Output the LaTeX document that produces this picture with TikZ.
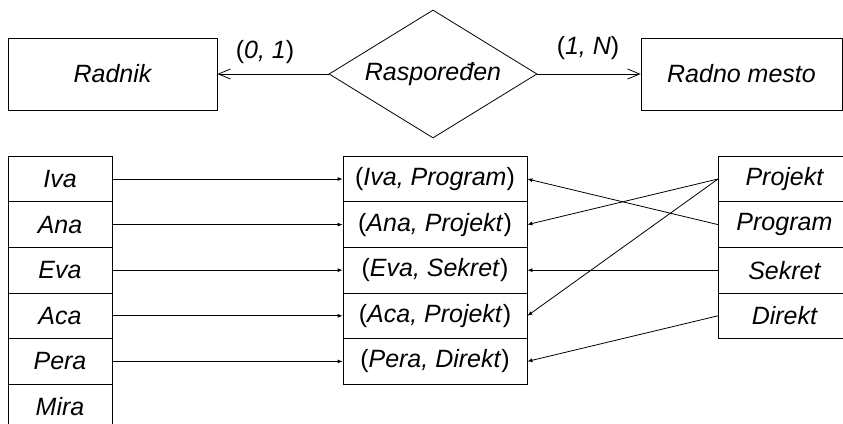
\documentclass[tikz,border=0pt]{standalone}
\usepackage{fontspec}
\setmainfont{Liberation Sans}
\usetikzlibrary{shapes.geometric,arrows.meta}

\begin{document}
\begin{tikzpicture}[x=1pt,y=-1pt,line width=0.8pt,font=\fontsize{25}{30}\selectfont]

        \useasboundingbox (0,0) rectangle (843,423);
        \clip (0,0) rectangle (843,423);

        \begin{scope}[every node/.style={draw, inner sep=0pt, minimum height=72pt, font=\fontsize{25}{30}\selectfont\itshape}]
          \node[minimum width=209pt] (radnik) at (112.5,74) {Radnik};
          \node[diamond, minimum width=208pt, minimum height=128pt, aspect=1.625] (rasp) at (433,74) {Raspoređen};
          \node[minimum width=201pt] (mesto) at (741.5,74) {Radno mesto};
        \end{scope}

        \node (k1) at (265,52) {(\textit{0, 1})};
        \node (k2) at (588,48) {(\textit{1, N})};

        \begin{scope}[every edge/.style={draw, -{Straight Barb[length=12pt,width=10pt]}}]
          \path (rasp.west) edge (radnik.east);
          \path (rasp.east) edge (mesto.west);
        \end{scope}

        \begin{scope}[every node/.style={draw, inner sep=0pt, minimum height=45.6pt, font=\fontsize{25}{30}\selectfont\itshape}]
          \begin{scope}[every node/.append style={minimum width=104pt}]
            \node (r1) at (60,179)   {Iva};
            \node (r2) at (60,224.6) {Ana};
            \node (r3) at (60,270.2) {Eva};
            \node (r4) at (60,315.8) {Aca};
            \node (r5) at (60,361.4) {Pera};
            \node (r6) at (60,407)   {Mira};
          \end{scope}
          \begin{scope}[every node/.append style={minimum width=184pt, font=\fontsize{25}{30}\selectfont}]
            \node (v1) at (435,179)   {(\textit{Iva, Program})};
            \node (v2) at (435,224.6) {(\textit{Ana, Projekt})};
            \node (v3) at (435,270.2) {(\textit{Eva, Sekret})};
            \node (v4) at (435,315.8) {(\textit{Aca, Projekt})};
            \node (v5) at (435,361.4) {(\textit{Pera, Direkt})};
          \end{scope}
          \begin{scope}[every node/.append style={minimum width=132pt}]
            \node[anchor=west] (m1) at (718,179)   {Projekt};
            \node[anchor=west] (m2) at (718,224.6) {Program};
            \node[anchor=west] (m3) at (718,270.2) {Sekret};
            \node[anchor=west] (m4) at (718,315.8) {Direkt};
          \end{scope}
        \end{scope}

        \begin{scope}[every edge/.style={draw, -{Latex[length=5pt,width=4pt]}}]
          \path (r1) edge (v1);
          \path (r2) edge (v2);
          \path (r3) edge (v3);
          \path (r4) edge (v4);
          \path (r5) edge (v5);
          \path (m1.west) edge (v2.east);
          \path (m1.west) edge (v4.east);
          \path (m2.west) edge (v1.east);
          \path (m3.west) edge (v3.east);
          \path (m4.west) edge (v5.east);
        \end{scope}

      \end{tikzpicture}
\end{document}
